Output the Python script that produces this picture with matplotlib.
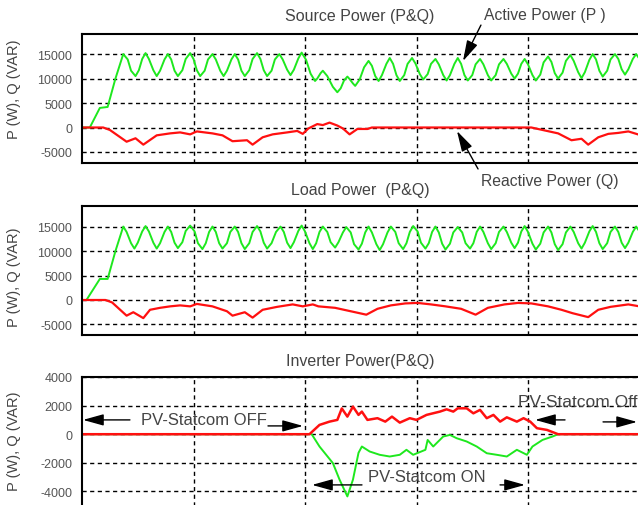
import matplotlib
matplotlib.use("Agg")
import matplotlib.pyplot as plt
from matplotlib import font_manager

# time axis in seconds, grid every 0.1 s
src_p_t = [0, .007, .016, .023, .030, .037,
           .041, .044, .048, .051, .054, .057, .060, .064, .067, .070, .074, .077, .080, .083, .086, .090, .093, .097,
           .100, .103, .106, .110, .113, .117, .120, .124, .127, .130, .134, .137, .140, .143, .146, .150, .153, .157,
           .160, .163, .166, .170, .173, .177, .180, .184, .187, .190, .194, .197, .201, .205, .209, .211, .214, .216,
           .220, .225, .229, .232, .235, .238, .240, .243, .245, .249, .253, .257, .260, .263, .266, .269, .273, .276,
           .279, .282, .285, .289, .292, .296, .299, .303, .306, .310, .313, .317, .320, .324, .327, .330, .334, .337,
           .340, .343, .346, .350, .353, .357, .360, .364, .367, .371, .374, .378, .381, .385, .388, .391, .394, .397,
           .400, .404, .407, .411, .414, .418, .421, .424, .427, .431, .434, .438, .441, .445, .448, .451, .455, .458,
           .461, .464, .467, .471, .474, .478, .481, .484, .487, .490, .494, .497, .500]
src_p = [0, 0, 4000, 4200, 10000, 15000,
         13900, 11600, 10500, 11700, 14000, 15200, 14000, 11700, 10500, 11600, 13900, 15000, 13900, 11600, 10500, 11700, 14000, 15200,
         14000, 11700, 10500, 11600, 13900, 15000, 13900, 11600, 10500, 11600, 13900, 15000, 13900, 11600, 10500, 11700, 14000, 15200,
         14000, 11700, 10500, 11600, 13900, 15000, 13900, 11800, 10700, 11800, 14100, 15300, 13800, 11000, 9500, 10000, 11100, 11600,
         10500, 8300, 7200, 8000, 9600, 10400, 9900, 9000, 8500, 9800, 12300, 13600, 12600, 10500, 9500, 10700, 13000, 14200,
         13000, 10700, 9500, 10700, 13000, 14200, 13100, 10900, 9800, 10900, 13000, 14000, 12900, 10700, 9600, 10700, 13000, 14200,
         13000, 10700, 9600, 10700, 12900, 14000, 12900, 10700, 9600, 10700, 12900, 14000, 13000, 11000, 10000, 11000, 13000, 14000,
         12900, 10700, 9600, 10800, 13300, 14500, 13400, 11100, 10000, 11200, 13600, 14800, 13600, 11300, 10100, 11300, 13800, 15000,
         13900, 11600, 10400, 11600, 13900, 15000, 14000, 11900, 10800, 11900, 14000, 15000, 14000]

src_q_t = [0, .019, .025, .040, .048, .055, .067, .079, .088, .097, .103, .117, .126, .135,
           .148, .153, .162, .171, .184, .193, .198, .203, .211, .216, .222, .229, .234, .240,
           .247, .256, .260, .403, .415, .427, .439, .448, .454, .463, .472, .481, .490, .500]
src_q = [0, 0, -500, -2900, -2200, -3500, -1600, -1200, -1000, -1400, -800, -1200, -1600, -2800,
         -2600, -3500, -2000, -1400, -1000, -700, -1300, -200, 700, 500, 1000, 400, -200, -1400,
         -300, -300, 0, 0, -600, -1200, -2600, -2300, -3500, -2000, -1300, -1100, -800, -1500]

load_p_t = [0, .004, .016, .023, .030, .037,
            .040, .044, .047, .050, .054, .057, .060, .064, .067, .070, .074, .077, .080, .083, .086, .090, .093, .097,
            .101, .104, .108, .111, .114, .117, .120, .123, .126, .130, .133, .137, .140, .143, .146, .150, .153, .157,
            .160, .163, .166, .170, .174, .178, .181, .184, .187, .190, .194, .197, .200, .204, .207, .210, .213, .216,
            .220, .223, .227, .230, .234, .237, .241, .244, .248, .251, .254, .257, .260, .264, .267, .270, .274, .277,
            .281, .284, .288, .291, .294, .297, .301, .304, .308, .311, .314, .317, .320, .323, .326, .330, .333, .337,
            .341, .344, .348, .351, .354, .357, .360, .364, .367, .371, .374, .378, .381, .385, .388, .391, .394, .397,
            .400, .404, .407, .411, .414, .418, .421, .424, .427, .431, .434, .438, .441, .445, .448, .451, .455, .458,
            .461, .464, .467, .471, .474, .478, .481, .484, .487, .490, .494, .497, .500]
load_p = [0, 0, 4300, 4300, 10000, 15000,
          13900, 11600, 10500, 11700, 14000, 15100, 14000, 11700, 10500, 11600, 13900, 15000, 13900, 11700, 10600, 11800, 14100, 15200,
          14000, 11600, 10400, 11600, 13900, 15000, 13900, 11600, 10500, 11600, 13900, 15000, 13900, 11600, 10400, 11600, 13900, 15100,
          14000, 11700, 10500, 11600, 13900, 15000, 13900, 11700, 10600, 11800, 14100, 15200, 14000, 11600, 10400, 11600, 13900, 15000,
          13900, 11800, 10700, 11800, 13800, 14900, 13800, 11400, 10300, 11500, 13800, 15000, 13800, 11400, 10200, 11400, 13800, 15000,
          13900, 11600, 10400, 11600, 13900, 15100, 14000, 11700, 10500, 11600, 13900, 15000, 13800, 11500, 10300, 11500, 13800, 14900,
          13800, 11600, 10500, 11600, 13900, 15000, 13900, 11600, 10400, 11600, 13900, 15000, 13900, 11700, 10600, 11700, 14000, 15100,
          13900, 11500, 10300, 11500, 13800, 15000, 13800, 11400, 10200, 11400, 13800, 15000, 13900, 11600, 10500, 11700, 14000, 15100,
          13900, 11600, 10400, 11600, 13900, 15000, 13900, 11700, 10600, 11700, 13900, 15000, 14000]

load_q_t = [0, .021, .027, .040, .046, .055, .061, .070, .079, .088, .097, .103, .117, .130,
            .135, .146, .153, .162, .175, .189, .198, .207, .212, .227, .241, .255, .265, .277,
            .290, .301, .313, .326, .340, .353, .364, .379, .391, .403, .418, .430, .440, .454,
            .463, .474, .490, .500]
load_q = [0, 0, -500, -3200, -2500, -3700, -2000, -1600, -1300, -1100, -1300, -800, -1300, -2300,
          -3200, -2500, -3600, -2000, -1400, -900, -1300, -900, -1300, -1600, -2300, -3000, -1800, -1100,
          -700, -600, -900, -1300, -1800, -3000, -1600, -900, -600, -700, -1300, -2000, -2700, -3500,
          -2000, -1400, -900, -1300]

inv_q_t = [0, .204, .213, .222, .229, .233, .238, .243, .248, .251, .256, .265, .272, .278,
           .285, .294, .300, .309, .321, .327, .333, .337, .345, .351, .357, .363, .369, .375,
           .381, .390, .396, .402, .408, .417, .427, .500]
inv_q = [0, 0, 650, 880, 1000, 1800, 1230, 1930, 1350, 1580, 1000, 1120, 880, 1230,
         810, 1120, 1000, 1350, 1580, 1740, 1580, 1810, 1810, 1460, 1700, 1120, 1350, 880,
         1180, 880, 1120, 880, 420, 300, 0, 0]

inv_p_t = [0, .206, .213, .225, .231, .238, .243, .248, .251, .258, .267, .276, .285, .291,
           .297, .308, .310, .315, .324, .330, .336, .345, .354, .363, .372, .381, .390, .399,
           .404, .413, .422, .427, .500]
inv_p = [0, 0, -860, -2020, -3180, -4350, -3180, -1300, -860, -1210, -1440, -1560, -1440, -1090,
         -1440, -1090, -400, -860, -160, -50, -280, -510, -860, -1330, -1440, -1560, -1090, -1440,
         -860, -400, -160, 0, 0]

titles = ["Source Power (P&Q)", "Load Power  (P&Q)", "Inverter Power(P&Q)"]
ylabel = "P (W), Q (VAR)"

available = {f.name for f in font_manager.fontManager.ttflist}
font = "Liberation Sans" if "Liberation Sans" in available else "DejaVu Sans"
plt.rcParams["font.family"] = [font, "DejaVu Sans"]
plt.rcParams["axes.unicode_minus"] = False

GREEN = "#1ee81e"
RED = "#ff1010"
TXT = "#444444"

fig = plt.figure(figsize=(6.38, 5.06), dpi=100)
W, H = 638.0, 506.0


def make_axes(top_px, bottom_px, ylim, yticks):
    ax = fig.add_axes([82 / W, 1 - bottom_px / H, 557.5 / W, (bottom_px - top_px) / H])
    ax.set_xlim(0, 0.5)
    ax.set_ylim(*ylim)
    ax.set_xticks([0.1, 0.2, 0.3, 0.4])
    ax.set_xticklabels([])
    ax.set_yticks(yticks)
    ax.tick_params(length=0, pad=7, labelsize=9, labelcolor="#555555")
    ax.grid(True, color="black", linestyle=(0, (3, 2.5)), linewidth=1)
    for s in ax.spines.values():
        s.set_linewidth(1.5)
    return ax


ax1 = make_axes(35, 164, (-7250, 19100), [-5000, 0, 5000, 10000, 15000])
ax2 = make_axes(207, 336, (-7150, 19200), [-5000, 0, 5000, 10000, 15000])
ax3 = make_axes(378, 508, (-5090, 4000), [-4000, -2000, 0, 2000, 4000])

ax1.plot(src_p_t, src_p, color=GREEN, lw=1.4)
ax1.plot(src_q_t, src_q, color=RED, lw=1.6)
ax2.plot(load_p_t, load_p, color=GREEN, lw=1.4)
ax2.plot(load_q_t, load_q, color=RED, lw=1.6)
ax3.plot(inv_p_t, inv_p, color=GREEN, lw=1.4)
ax3.plot(inv_q_t, inv_q, color=RED, lw=1.8)

for title, ypx in zip(titles, [17, 190, 362]):
    fig.text(360 / W, 1 - ypx / H, title, ha="center", va="center", fontsize=11.5, color=TXT)
for ypx in [89, 277, 441]:
    fig.text(14 / W, 1 - ypx / H, ylabel, rotation=90, ha="center", va="center",
             fontsize=10.5, color=TXT)

arrow = dict(arrowstyle="-|>,head_length=0.9,head_width=0.25", color="black", lw=1,
             shrinkA=0, shrinkB=0, mutation_scale=14)

# top panel labels
ax1.text(0.4148, 23165, "Active Power (P )", ha="center", va="center", fontsize=11.3,
         color=TXT, clip_on=False)
ax1.annotate("", xy=(0.3417, 13570), xytext=(0.3578, 20920), arrowprops=arrow,
             annotation_clip=False)
ax1.text(0.4193, -10920, "Reactive Power (Q)", ha="center", va="center", fontsize=11.3,
         color=TXT, clip_on=False)
ax1.annotate("", xy=(0.3363, -714), xytext=(0.3552, -8470), arrowprops=arrow,
             annotation_clip=False)

# bottom panel labels
ax3.text(0.1090, 1000, "PV-Statcom OFF", ha="center", va="center", fontsize=12, color=TXT)
ax3.annotate("", xy=(0.0009, 1000), xytext=(0.0430, 1000), arrowprops=arrow)
ax3.annotate("", xy=(0.1982, 580), xytext=(0.1668, 580), arrowprops=arrow)

ax3.text(0.3090, -2986, "PV-Statcom ON", ha="center", va="center", fontsize=12, color=TXT)
ax3.annotate("", xy=(0.2063, -3545), xytext=(0.2511, -3545), arrowprops=arrow)
ax3.annotate("", xy=(0.3973, -3545), xytext=(0.3749, -3545), arrowprops=arrow)

ax3.text(0.3910, 2259, "PV-Statcom Off", ha="left", va="center", fontsize=12.5, color=TXT,
         clip_on=False)
ax3.annotate("", xy=(0.4063, 1000), xytext=(0.4332, 1000), arrowprops=arrow)
ax3.annotate("", xy=(0.4978, 860), xytext=(0.4673, 860), arrowprops=arrow)

fig.savefig("out.png", dpi=100)
